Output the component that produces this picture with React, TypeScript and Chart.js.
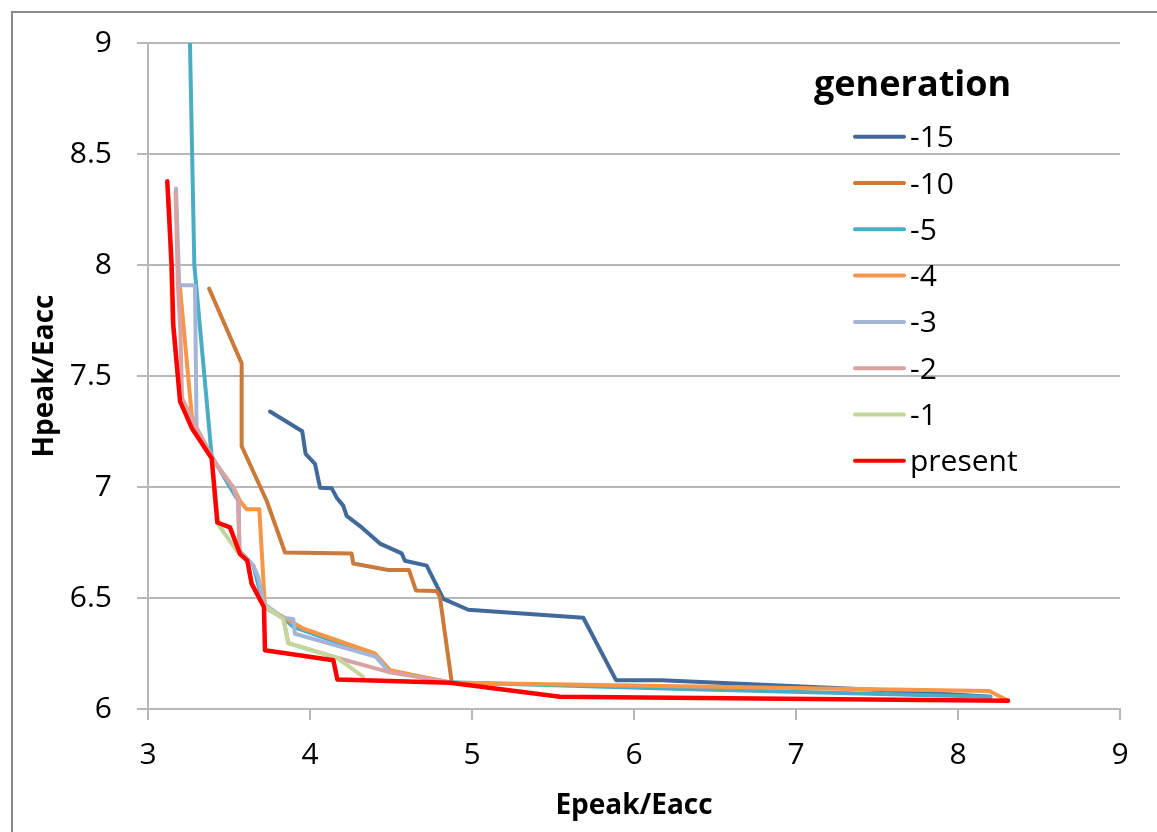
import React, { useEffect, useRef } from "react";
import { Chart, registerables } from "chart.js";

Chart.register(...registerables);

// ---------- data ----------
const legendTitle = "generation";
const seriesLabels = ["-15", "-10", "-5", "-4", "-3", "-2", "-1", "present"];
const seriesColors = ["#41699B", "#CB7A39", "#4BACC6", "#F79646", "#A4B6D8", "#D9A3A3", "#C3D69B", "#FF0000"];

const gen15X = [3.753, 3.952, 3.973, 4.031, 4.062, 4.134, 4.165, 4.206, 4.226, 4.319, 4.432, 4.566, 4.586, 4.72, 4.823, 4.977, 5.687, 5.889, 6.17, 7.52, 8.2];
const gen15Y = [7.34, 7.251, 7.149, 7.104, 6.997, 6.994, 6.952, 6.915, 6.87, 6.818, 6.745, 6.701, 6.668, 6.646, 6.496, 6.447, 6.411, 6.13, 6.13, 6.086, 6.055];

const gen10X = [3.377, 3.578, 3.578, 3.733, 3.846, 4.257, 4.267, 4.483, 4.611, 4.654, 4.782, 4.802, 4.833, 4.875];
const gen10Y = [7.894, 7.557, 7.184, 6.937, 6.705, 6.701, 6.655, 6.626, 6.626, 6.534, 6.531, 6.504, 6.34, 6.12];

const gen5X = [3.259, 3.286, 3.393, 3.558, 3.564, 3.65, 3.716, 3.835, 3.897, 4.4, 4.49, 4.87, 6.3, 8.2];
const gen5Y = [9.0, 8.0, 7.139, 6.937, 6.713, 6.646, 6.46, 6.41, 6.37, 6.24, 6.17, 6.12, 6.09, 6.055];

const gen4X = [3.195, 3.198, 3.27, 3.3, 3.414, 3.527, 3.568, 3.609, 3.687, 3.722, 3.835, 3.907, 3.96, 4.401, 4.494, 4.87, 8.193, 8.307];
const gen4Y = [7.91, 7.894, 7.325, 7.26, 7.109, 6.997, 6.937, 6.9, 6.9, 6.459, 6.414, 6.384, 6.362, 6.25, 6.175, 6.118, 6.081, 6.038];

const gen3X = [3.173, 3.193, 3.29, 3.3, 3.414, 3.527, 3.558, 3.564, 3.65, 3.681, 3.716, 3.835, 3.897, 3.907, 4.41, 4.483];
const gen3Y = [8.345, 7.909, 7.909, 7.266, 7.109, 6.997, 6.937, 6.713, 6.646, 6.593, 6.474, 6.41, 6.406, 6.339, 6.235, 6.17];

const gen2X = [3.17, 3.185, 3.2, 3.21, 3.3, 3.414, 3.527, 3.558, 3.564, 3.613, 3.64, 3.716, 3.835, 3.866, 4.165, 4.483, 4.864];
const gen2Y = [8.33, 7.9, 7.7, 7.4, 7.266, 7.109, 6.997, 6.937, 6.713, 6.668, 6.564, 6.459, 6.41, 6.297, 6.231, 6.167, 6.12];

const gen1X = [3.13, 3.15, 3.2, 3.27, 3.393, 3.434, 3.547, 3.613, 3.64, 3.716, 3.835, 3.866, 4.165, 4.329];
const gen1Y = [8.3, 7.75, 7.39, 7.27, 7.13, 6.831, 6.713, 6.668, 6.564, 6.465, 6.406, 6.297, 6.231, 6.145];

const presentX = [3.119, 3.146, 3.156, 3.198, 3.27, 3.393, 3.428, 3.506, 3.568, 3.613, 3.64, 3.716, 3.722, 4.144, 4.169, 4.864, 5.543, 8.309];
const presentY = [8.377, 7.998, 7.73, 7.386, 7.266, 7.13, 6.84, 6.818, 6.698, 6.668, 6.564, 6.459, 6.265, 6.22, 6.133, 6.118, 6.055, 6.037];

const seriesX = [gen15X, gen10X, gen5X, gen4X, gen3X, gen2X, gen1X, presentX];
const seriesY = [gen15Y, gen10Y, gen5Y, gen4Y, gen3Y, gen2Y, gen1Y, presentY];

const xTitle = "Epeak/Eacc";
const yTitle = "Hpeak/Eacc";
const xMin = 3, xMax = 9, xStep = 1;
const yMin = 6, yMax = 9, yStep = 0.5;

const FONT = "'Open Sans', 'Liberation Sans', sans-serif";
const GRID = "#b8b8b8";

const framePlugin = {
  id: "frame",
  beforeDraw(chart: any) {
    const ctx = chart.ctx;
    ctx.save();
    ctx.fillStyle = "#ffffff";
    ctx.fillRect(0, 0, chart.width, chart.height);
    ctx.strokeStyle = "#8a8a8a";
    ctx.lineWidth = 2;
    ctx.strokeRect(12, 12, chart.width + 20, chart.height + 20);
    ctx.restore();
  },
};

const legendPlugin = {
  id: "generationLegend",
  afterDraw(chart: any) {
    const ctx = chart.ctx;
    ctx.save();
    ctx.fillStyle = "#000000";
    ctx.textAlign = "left";
    ctx.textBaseline = "alphabetic";
    ctx.font = `bold 36px ${FONT}`;
    ctx.fillText(legendTitle, 814, 96);
    chart.data.datasets.forEach((ds: any, i: number) => {
      const y = 136.7 + i * 46.3;
      ctx.strokeStyle = ds.borderColor;
      ctx.lineWidth = 4;
      ctx.lineCap = "round";
      ctx.beginPath();
      ctx.moveTo(855, y);
      ctx.lineTo(904, y);
      ctx.stroke();
      ctx.font = `30px ${FONT}`;
      ctx.fillStyle = "#000000";
      ctx.fillText(ds.label, 910, y + 10.5);
    });
    ctx.restore();
  },
};

export default function App() {
  const canvasRef = useRef<HTMLCanvasElement | null>(null);

  useEffect(() => {
    if (!canvasRef.current) return;
    const n = seriesLabels.length;
    const datasets = seriesLabels.map((label, i) => ({
      label,
      data: seriesX[i].map((x, k) => ({ x, y: seriesY[i][k] })),
      borderColor: seriesColors[i],
      backgroundColor: seriesColors[i],
      borderWidth: i === n - 1 ? 4.5 : 4,
      showLine: true,
      pointRadius: 0,
      pointHoverRadius: 0,
      borderJoinStyle: "round" as const,
      borderCapStyle: "round" as const,
      tension: 0,
      order: n - i,
    }));

    const chart = new Chart(canvasRef.current, {
      type: "scatter",
      data: { datasets },
      options: {
        animation: false,
        responsive: false,
        maintainAspectRatio: false,
        layout: { padding: { left: 0, right: 37, top: 40, bottom: 0 } },
        plugins: {
          legend: { display: false },
          tooltip: { enabled: false },
        },
        scales: {
          x: {
            type: "linear",
            min: xMin,
            max: xMax,
            ticks: {
              stepSize: xStep,
              color: "#000",
              font: { family: FONT, size: 30 },
              padding: 17,
              maxRotation: 0,
              callback: (v: any) => String(Number(v)),
            },
            grid: {
              drawOnChartArea: false,
              drawTicks: true,
              tickLength: 11,
              color: GRID,
              lineWidth: 2,
            },
            border: { color: GRID, width: 2 },
            title: {
              display: true,
              text: xTitle,
              color: "#000",
              font: { family: FONT, size: 28, weight: "bold" },
              padding: { top: 0, bottom: 9 },
            },
            afterFit: (scale: any) => {
              scale.height = 123;
            },
          },
          y: {
            type: "linear",
            min: yMin,
            max: yMax,
            ticks: {
              stepSize: yStep,
              color: "#000",
              font: { family: FONT, size: 30 },
              padding: 25,
              callback: (v: any) => String(Number(v)),
            },
            grid: {
              drawOnChartArea: true,
              drawTicks: true,
              tickLength: 11,
              color: GRID,
              lineWidth: 2,
            },
            border: { color: GRID, width: 2 },
            title: {
              display: true,
              text: yTitle,
              color: "#000",
              font: { family: FONT, size: 28, weight: "bold" },
              padding: { top: 28, bottom: 0 },
            },
            afterFit: (scale: any) => {
              scale.width = 148;
            },
          },
        },
      },
      plugins: [framePlugin, legendPlugin],
    });

    return () => chart.destroy();
  }, []);

  return (
    <div style={{ position: "fixed", left: 0, top: 0, width: 1157, height: 832, background: "#fff" }}>
      <canvas ref={canvasRef} width={1157} height={832} style={{ width: 1157, height: 832, display: "block" }} />
    </div>
  );
}
